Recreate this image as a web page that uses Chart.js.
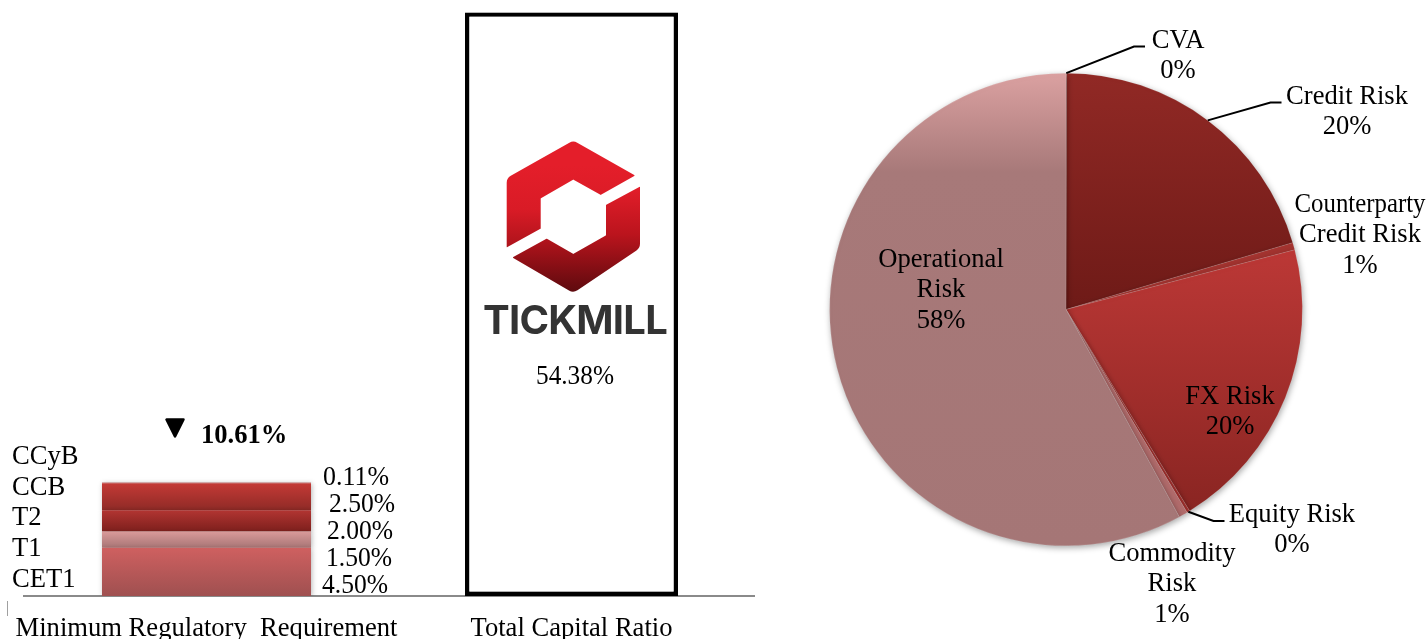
<!DOCTYPE html>
<html>
<head>
<meta charset="utf-8">
<script src="https://cdn.jsdelivr.net/npm/chart.js@4"></script>
<style>
html,body{margin:0;padding:0;background:#fff;width:1427px;height:639px;overflow:hidden}
#bar{position:absolute;left:0;top:0}
#pie{position:absolute;left:760px;top:0}
</style>
</head>
<body>
<canvas id="bar" width="760" height="639"></canvas>
<canvas id="pie" width="667" height="639"></canvas>
<script>
// ---- data ----
const barCategories = ['Minimum Regulatory  Requirement', 'Total Capital Ratio'];
const layerNames = ['CET1', 'T1', 'T2', 'CCB', 'CCyB'];
const layerValues = [4.5, 1.5, 2.0, 2.5, 0.11];
const totalCapitalRatio = 54.38;
const pieCategories = ['CVA', 'Credit Risk', 'Counterparty Credit Risk', 'FX Risk', 'Equity Risk', 'Commodity Risk', 'Operational Risk'];
const pieValues = [0.04, 20.4, 0.5, 20.3, 0.2, 0.6, 57.96];
const pieLabelLines = [['CVA'], ['Credit Risk'], ['Counterparty', 'Credit Risk'], ['FX Risk'], ['Equity Risk'], ['Commodity', 'Risk'], ['Operational', 'Risk']];

// ---- styles ----
const SERIF = '"Liberation Serif","Times New Roman",serif';
const FONT_SIZE = 26.6;
const layerStops = [
  [[0, '#cf6060'], [1, '#9f5050']],
  [[0, '#d99a9a'], [1, '#a87575']],
  [[0, '#b23532'], [1, '#7d1f1c']],
  [[0, '#c43a36'], [1, '#8f2a26']],
  [[0, '#dba5a5'], [1, '#d09090']]
];
const pieStops = [
  [[0, '#b26c6c'], [1, '#b26c6c']],
  [[0, '#912925'], [1, '#6e1a17']],
  [[0, '#a43430'], [1, '#a43430']],
  [[0, '#bc3836'], [1, '#8a2522']],
  [[0, '#a8322f'], [1, '#a8322f']],
  [[0, '#b26c6c'], [1, '#b26c6c']],
  [[0, '#dba1a1'], [0.21, '#a77979'], [1, '#a57676']]
];
const pieGradBands = [[-236, -235], [-236, 0], [-70, -50], [-60, 200], [190, 205], [190, 210], [-236.5, 236.5]];
const layerLabelPos = [[12, 580], [12, 549], [12, 518], [12, 488], [12, 457]];
const layerValuePos = [[322, 586], [326, 559], [327, 532], [329, 505], [323, 478]];
const pieLabelPos = [[1178, 41], [1347, 97], [1360, 205], [1230, 397], [1292, 515], [1172, 554], [941, 260]];
const pieLeaders = {0: [[1134, 46.5], [1145, 46.5]], 1: [[1270.5, 102.5], [1281.5, 102.5]], 4: [[1213.5, 521], [1224.5, 521]]};

function vGrad(ctx, top, bottom, stops) {
  const g = ctx.createLinearGradient(0, top, 0, bottom);
  stops.forEach(s => g.addColorStop(s[0], s[1]));
  return g;
}

function roundedPoly(ctx, pts) {
  ctx.beginPath();
  const n = pts.length;
  const a0 = pts[n - 1], b0 = pts[0];
  ctx.moveTo((a0[0] + b0[0]) / 2, (a0[1] + b0[1]) / 2);
  for (let i = 0; i < n; i++) {
    const p = pts[i], q = pts[(i + 1) % n];
    ctx.arcTo(p[0], p[1], q[0], q[1], p[2] || 0.5);
  }
  ctx.closePath();
}

const barPlugin = {
  id: 'barDecor',
  beforeDatasetsDraw(chart) {
    const c = chart.ctx;
    c.save();
    c.shadowColor = 'rgba(0,0,0,0.28)';
    c.shadowBlur = 5;
    c.shadowOffsetX = 1;
    c.shadowOffsetY = 1;
  },
  afterDatasetsDraw(chart) {
    const c = chart.ctx;
    c.restore();
    c.save();
    c.fillStyle = '#000';
    c.textBaseline = 'middle';
    c.font = FONT_SIZE + 'px ' + SERIF;
    c.textAlign = 'left';
    layerNames.forEach((n, i) => c.fillText(n, layerLabelPos[i][0], layerLabelPos[i][1]));
    layerValues.forEach((v, i) => c.fillText(v.toFixed(2) + '%', layerValuePos[i][0], layerValuePos[i][1], 66));
    const sum = layerValues.reduce((a, b) => a + b, 0);
    c.font = 'bold ' + FONT_SIZE + 'px ' + SERIF;
    c.fillText(sum.toFixed(2) + '%', 201, 436);
    c.font = FONT_SIZE + 'px ' + SERIF;
    c.textAlign = 'center';
    c.fillText(totalCapitalRatio.toFixed(2) + '%', 575, 377, 78);

    // marker triangle
    c.fillStyle = '#000';
    c.strokeStyle = '#000';
    c.lineWidth = 2.5;
    c.lineJoin = 'round';
    c.beginPath();
    c.moveTo(166.5, 419.5);
    c.lineTo(183.5, 419.5);
    c.lineTo(175, 436.5);
    c.closePath();
    c.fill();
    c.stroke();

    // tiny mark left of axis
    c.strokeStyle = '#a0a0a0';
    c.lineWidth = 1;
    c.beginPath();
    c.moveTo(7.5, 601);
    c.lineTo(7.5, 616);
    c.stroke();

    // logo
    c.fillStyle = vGrad(c, 165, 292, [[0, '#e41e2a'], [0.35, '#d91b26'], [0.7, '#a51219'], [1, '#5c0a0e']]);
    roundedPoly(c, [[573.3, 140.5, 8], [635, 175.5], [600.7, 195], [573.3, 179.5], [540.7, 198.3], [540.7, 228.7], [506.7, 247.5], [506.7, 178, 8]]);
    c.fill();
    c.fillStyle = vGrad(c, 186, 293, [[0, '#e41e2a'], [0.45, '#bb141d'], [1, '#5c0a0e']]);
    roundedPoly(c, [[640, 186.5], [640, 248, 8], [573.3, 293, 8], [512.5, 257.5], [546.7, 238.7], [573.3, 254], [606, 235.3], [606, 205]]);
    c.fill();

    // wordmark
    c.fillStyle = '#333333';
    c.font = '700 40px Inter, "Open Sans", sans-serif';
    c.textAlign = 'left';
    c.textBaseline = 'alphabetic';
    const w = c.measureText('TICKMILL').width;
    c.letterSpacing = ((184 - w) / 8) + 'px';
    c.fillText('TICKMILL', 483, 333.5);
    c.letterSpacing = '0px';
    c.restore();
  }
};

const barDatasets = layerNames.map((name, i) => ({
  label: name,
  data: [layerValues[i], null],
  stack: 's',
  barPercentage: 0.5726,
  categoryPercentage: 1,
  borderWidth: 0,
  backgroundColor(ctx) {
    const chart = ctx.chart;
    const y = chart.scales.y;
    const below = layerValues.slice(0, i).reduce((a, b) => a + b, 0);
    const top = y ? y.getPixelForValue(below + layerValues[i]) : NaN;
    const bot = y ? y.getPixelForValue(below) : NaN;
    if (!isFinite(top) || !isFinite(bot)) return layerStops[i][0][1];
    return vGrad(chart.ctx, top, bot, layerStops[i]);
  }
}));
barDatasets.push({
  label: 'Total Capital Ratio',
  data: [null, totalCapitalRatio],
  stack: 's',
  barPercentage: 0.5836,
  categoryPercentage: 1,
  backgroundColor: '#ffffff',
  borderColor: '#000000',
  borderWidth: 4.4,
  borderSkipped: false
});

new Chart(document.getElementById('bar'), {
  type: 'bar',
  data: {labels: barCategories, datasets: barDatasets},
  plugins: [barPlugin],
  options: {
    responsive: false,
    animation: false,
    layout: {padding: {left: 24, right: 6, top: 5.8, bottom: 0}},
    plugins: {legend: {display: false}, tooltip: {enabled: false}},
    scales: {
      x: {
        stacked: true,
        grid: {display: false, drawTicks: false},
        border: {color: '#8a8a8a', width: 2},
        ticks: {color: '#000', font: {family: SERIF, size: FONT_SIZE}, padding: 17, maxRotation: 0, minRotation: 0, autoSkip: false},
        afterFit(s) { s.height = 43; s.paddingLeft = 0; s.paddingRight = 0; }
      },
      y: {stacked: true, display: false, min: 0, max: 55}
    }
  }
});

const piePlugin = {
  id: 'pieDecor',
  beforeDatasetsDraw(chart) {
    const c = chart.ctx;
    c.save();
    c.shadowColor = 'rgba(0,0,0,0.35)';
    c.shadowBlur = 6;
    c.shadowOffsetX = 1;
    c.shadowOffsetY = 2;
  },
  afterDatasetsDraw(chart) {
    const c = chart.ctx;
    c.restore();
    c.save();
    const OFF = 760;
    const arcs = chart.getDatasetMeta(0).data;
    c.strokeStyle = '#000';
    c.lineWidth = 2;
    Object.keys(pieLeaders).forEach(k => {
      const a = arcs[k].getProps(['x', 'y', 'startAngle', 'endAngle', 'outerRadius']);
      const m = (a.startAngle + a.endAngle) / 2;
      c.beginPath();
      c.moveTo(a.x + a.outerRadius * Math.cos(m), a.y + a.outerRadius * Math.sin(m));
      pieLeaders[k].forEach(p => c.lineTo(p[0] - OFF, p[1]));
      c.stroke();
    });
    c.fillStyle = '#000';
    c.font = FONT_SIZE + 'px ' + SERIF;
    c.textAlign = 'center';
    c.textBaseline = 'middle';
    pieLabelLines.forEach((lines, i) => {
      const all = lines.concat([Math.round(pieValues[i]) + '%']);
      all.forEach((t, j) => c.fillText(t, pieLabelPos[i][0] - OFF, pieLabelPos[i][1] + j * 30.5, 131));
    });
    c.restore();
  }
};

new Chart(document.getElementById('pie'), {
  type: 'pie',
  data: {
    labels: pieCategories,
    datasets: [{
      data: pieValues,
      borderWidth: 0.3,
      borderColor: 'rgba(255,255,255,0.4)',
      hoverOffset: 0,
      backgroundColor(ctx) {
        const chart = ctx.chart;
        const a = chart.chartArea;
        const cy = a ? (a.top + a.bottom) / 2 : 309.5;
        const b = pieGradBands[ctx.dataIndex];
        return vGrad(chart.ctx, cy + b[0], cy + b[1], pieStops[ctx.dataIndex]);
      }
    }]
  },
  plugins: [piePlugin],
  options: {
    responsive: false,
    animation: false,
    layout: {padding: {left: 69.5, right: 124.5, top: 73, bottom: 93}},
    plugins: {legend: {display: false}, tooltip: {enabled: false}}
  }
});
</script>
</body>
</html>
